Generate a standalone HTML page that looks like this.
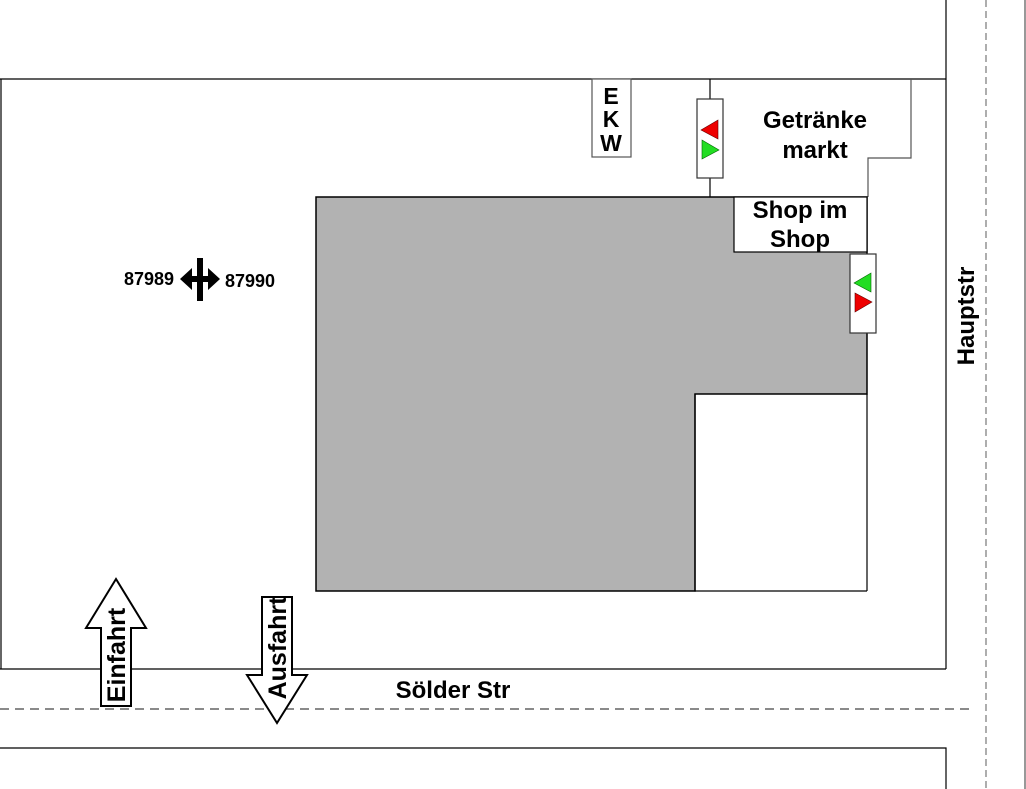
<!DOCTYPE html>
<html><head><meta charset="utf-8"><style>
html,body{margin:0;padding:0;background:#fff;}
svg{display:block;}
text{font-family:"Liberation Sans",Arial,sans-serif;font-weight:bold;fill:#000;}
</style></head><body>
<svg width="1026" height="789" viewBox="0 0 1026 789" xmlns="http://www.w3.org/2000/svg">
<rect width="1026" height="789" fill="#fff"/>
<g stroke="#000" stroke-width="1.2" fill="none">
<path d="M0 79 H946 M1 79 V669 M0 669 H946 M946 0 V669"/>
<path d="M0 748 H946 V789"/>
<path d="M1025 0 V789" stroke="#555"/>
</g>
<path d="M0 709 H972" stroke="#444" stroke-width="1.2" stroke-dasharray="9,6"/>
<path d="M986 0 V789" stroke="#777" stroke-width="1.2" stroke-dasharray="7,4"/>
<g stroke="#000" stroke-width="1.2" fill="none">
<path d="M710 79 V197"/>
<path d="M911 79 V158 H868 V197" stroke="#555"/>
</g>
<polygon points="316,197 867,197 867,394 695,394 695,591 316,591" fill="#b2b2b2" stroke="#000" stroke-width="1.5"/>
<rect x="734" y="197" width="133" height="55" fill="#fff" stroke="#000" stroke-width="1.2"/>
<path d="M695 394 V591 H867 M867 394 V591" stroke="#000" stroke-width="1.2" fill="none"/>
<rect x="592" y="79" width="39" height="78" fill="#fff" stroke="#555" stroke-width="1.2"/>
<text x="611" y="104" font-size="23" text-anchor="middle">E</text>
<text x="611" y="127" font-size="23" text-anchor="middle">K</text>
<text x="611" y="151" font-size="23" text-anchor="middle">W</text>
<rect x="697" y="99" width="26" height="79" fill="#fff" stroke="#333" stroke-width="1.2"/>
<polygon points="718,120 718,139 701,130" fill="#e00" stroke="#600" stroke-width="0.6"/>
<polygon points="702,140 702,159 719,150" fill="#2d2" stroke="#060" stroke-width="0.6"/>
<rect x="850" y="254" width="26" height="79" fill="#fff" stroke="#333" stroke-width="1.2"/>
<polygon points="871,273 871,292 854,283" fill="#2d2" stroke="#060" stroke-width="0.6"/>
<polygon points="855,293 855,312 872,302" fill="#e00" stroke="#600" stroke-width="0.6"/>
<text x="815" y="128" font-size="24" text-anchor="middle">Getränke</text>
<text x="815" y="158" font-size="24" text-anchor="middle">markt</text>
<text x="800" y="218" font-size="24" text-anchor="middle">Shop im</text>
<text x="800" y="247" font-size="24" text-anchor="middle">Shop</text>
<text x="124" y="285" font-size="18">87989</text>
<text x="225" y="287" font-size="18">87990</text>
<rect x="197" y="258" width="6" height="43" fill="#000"/>
<polygon points="180,279 192,268 192,276 208,276 208,268 220,279 208,290 208,282 192,282 192,290" fill="#000"/>
<text transform="translate(974,316) rotate(-90)" font-size="24" text-anchor="middle">Hauptstr</text>
<text x="453" y="698" font-size="24" text-anchor="middle">Sölder Str</text>
<polygon points="116,579 146,628 131,628 131,706 101,706 101,628 86,628" fill="#fff" stroke="#000" stroke-width="2"/>
<text transform="translate(125,655) rotate(-90)" font-size="25" text-anchor="middle">Einfahrt</text>
<polygon points="262,597 292,597 292,675 307,675 277,723 247,675 262,675" fill="#fff" stroke="#000" stroke-width="2"/>
<text transform="translate(286,648) rotate(-90)" font-size="25" text-anchor="middle">Ausfahrt</text>
</svg>
</body></html>
